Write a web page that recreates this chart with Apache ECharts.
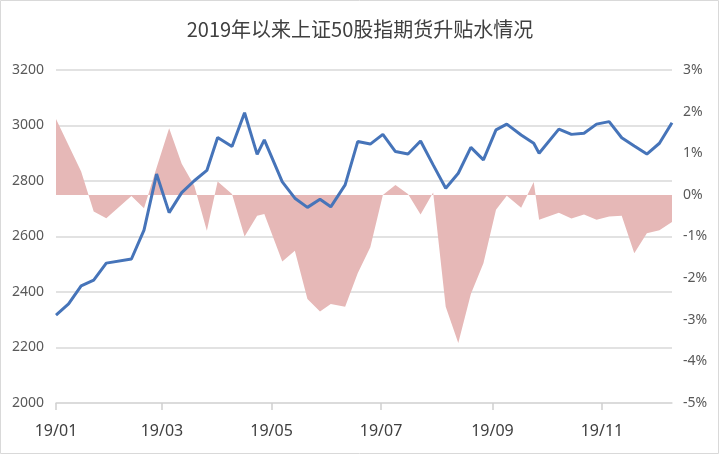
<!DOCTYPE html>
<html>
<head>
<meta charset="utf-8">
<script src="https://cdn.jsdelivr.net/npm/echarts@6/dist/echarts.min.js"></script>
<style>
  html, body { margin: 0; padding: 0; background: #fff; }
  #chart { width: 720px; height: 455px; }
</style>
</head>
<body>
<div id="chart"></div>
<script>
// weekly dates (last trading day of each week, 2019)
var weekDates = ['01-04', '01-11', '01-18', '01-25', '02-01', '02-15', '02-22', '03-01', '03-08', '03-15',
  '03-22', '03-29', '04-04', '04-12', '04-19', '04-26', '04-30', '05-10', '05-17', '05-24',
  '05-31', '06-06', '06-14', '06-21', '06-28', '07-05', '07-12', '07-19', '07-26', '08-02',
  '08-09', '08-16', '08-23', '08-30', '09-06', '09-12', '09-20', '09-27', '09-30', '10-11',
  '10-18', '10-25', '11-01', '11-08', '11-15', '11-22', '11-29', '12-06', '12-13']
// 上证50 index level
var sz50 = [2317, 2357, 2422, 2443, 2504, 2519, 2623, 2825, 2686, 2758,
  2801, 2838, 2957, 2924, 3046, 2896, 2948, 2797, 2738, 2705,
  2734, 2707, 2786, 2942, 2933, 2968, 2906, 2897, 2944, 2858,
  2774, 2828, 2921, 2876, 2984, 3005, 2966, 2936, 2900, 2987,
  2968, 2972, 3005, 3014, 2956, 2926, 2897, 2936, 3010]
// 升贴水 (%)
var basis = [1.82, 1.19, 0.56, -0.40, -0.56, -0.03, -0.32, 0.65, 1.6, 0.75,
  0.22, -0.86, 0.32, 0.02, -1.0, -0.5, -0.46, -1.6, -1.34, -2.5,
  -2.8, -2.62, -2.69, -1.88, -1.26, 0.0, 0.24, 0.02, -0.47, 0.06,
  -2.69, -3.56, -2.38, -1.64, -0.36, -0.02, -0.31, 0.31, -0.6, -0.43,
  -0.57, -0.47, -0.6, -0.52, -0.5, -1.4, -0.92, -0.85, -0.65]
// x axis tick dates and their labels
var labelDates = ['01-04', '03-04', '05-04', '07-04', '09-04', '11-04']
var labelText = ['19/01', '19/03', '19/05', '19/07', '19/09', '19/11']

// days since the first date, so the axis spaces points by calendar time
function toDay (md) {
  var p = md.split('-')
  var t = Date.UTC(2019, +p[0] - 1, +p[1])
  return Math.round((t - Date.UTC(2019, 0, 4)) / 86400000)
}

var days = weekDates.map(toDay)
var labelDays = labelDates.map(toDay)
var lineData = days.map(function (d, i) { return [d, sz50[i]] })
var areaData = days.map(function (d, i) { return [d, basis[i]] })

var chart = echarts.init(document.getElementById('chart'))
var axisText = { color: '#595959', fontSize: 14, fontFamily: 'Noto Sans' }

chart.setOption({
  animation: false,
  title: {
    text: '2019年以来上证50股指期货升贴水情况',
    left: 'center',
    top: 14,
    textStyle: {
      color: '#404040',
      fontSize: 20,
      fontWeight: 'normal',
      fontFamily: 'Noto Sans CJK SC'
    }
  },
  graphic: [{
    type: 'rect',
    shape: { x: 0.5, y: 0.5, width: 718, height: 453 },
    style: { fill: 'none', stroke: '#d9d9d9', lineWidth: 1 }
  }],
  grid: { left: 56, right: 48, top: 70, bottom: 52 },
  xAxis: {
    type: 'value',
    min: days[0],
    max: days[days.length - 1],
    // keep the axis at the bottom, not on the 0% line of the right axis
    axisLine: { onZero: false, lineStyle: { color: '#d9d9d9', width: 1.5 } },
    axisTick: {
      show: true,
      interval: 0,
      length: 7,
      customValues: labelDays,
      lineStyle: { color: '#cfcfcf', width: 1.5 }
    },
    axisLabel: {
      customValues: labelDays,
      interval: 0,
      margin: 20,
      color: '#404040',
      fontSize: 16,
      fontFamily: 'Noto Sans',
      formatter: function (v) {
        var i = labelDays.indexOf(Math.round(v))
        return i >= 0 ? labelText[i] : ''
      }
    },
    splitLine: { show: false }
  },
  yAxis: [
    {
      type: 'value',
      min: 2000,
      max: 3200,
      interval: 200,
      axisLine: { show: false },
      axisTick: { show: false },
      axisLabel: Object.assign({ margin: 12, formatter: function (v) { return String(v) } }, axisText),
      splitLine: { lineStyle: { color: '#d9d9d9', width: 1.5 } }
    },
    {
      type: 'value',
      min: -5,
      max: 3,
      interval: 1,
      axisLine: { show: false },
      axisTick: { show: false },
      axisLabel: Object.assign({ margin: 11, formatter: '{value}%' }, axisText),
      splitLine: { show: false }
    }
  ],
  series: [
    {
      name: '升贴水',
      type: 'line',
      yAxisIndex: 1,
      data: areaData,
      symbol: 'none',
      lineStyle: { width: 0 },
      areaStyle: { color: '#e6b8b7', opacity: 1 },
      z: 1
    },
    {
      name: '上证50',
      type: 'line',
      data: lineData,
      symbol: 'none',
      lineStyle: { color: '#4674b9', width: 3 },
      z: 2
    }
  ]
})
</script>
</body>
</html>
